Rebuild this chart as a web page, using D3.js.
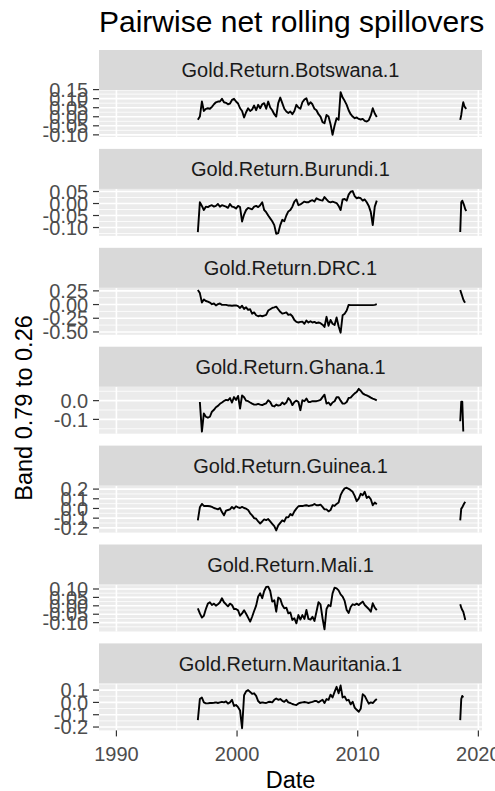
<!DOCTYPE html>
<html>
<head>
<meta charset="utf-8">
<script src="https://cdn.jsdelivr.net/npm/d3@7"></script>
<style>
  body { margin: 0; background: #fff; }
  svg { display: block; font-family: "Liberation Sans", Arial, sans-serif; }
</style>
</head>
<body>
<svg id="chart" width="495" height="791"></svg>
<script>
// facet labels
const stripLabels = [
  'Gold.Return.Botswana.1', 'Gold.Return.Burundi.1', 'Gold.Return.DRC.1',
  'Gold.Return.Ghana.1', 'Gold.Return.Guinea.1', 'Gold.Return.Mali.1',
  'Gold.Return.Mauritania.1'
];

// bi-monthly dates of the main stretch, then the short 2018 stretch (monthly)
const mainDates = [
  '1996-10','1996-12',
  '1997-02','1997-04','1997-06','1997-08','1997-10','1997-12',
  '1998-02','1998-04','1998-06','1998-08','1998-10','1998-12',
  '1999-02','1999-04','1999-06','1999-08','1999-10','1999-12',
  '2000-02','2000-04','2000-06','2000-08','2000-10','2000-12',
  '2001-02','2001-04','2001-06','2001-08','2001-10','2001-12',
  '2002-02','2002-04','2002-06','2002-08','2002-10','2002-12',
  '2003-02','2003-04','2003-06','2003-08','2003-10','2003-12',
  '2004-02','2004-04','2004-06','2004-08','2004-10','2004-12',
  '2005-02','2005-04','2005-06','2005-08','2005-10','2005-12',
  '2006-02','2006-04','2006-06','2006-08','2006-10','2006-12',
  '2007-02','2007-04','2007-06','2007-08','2007-10','2007-12',
  '2008-02','2008-04','2008-06','2008-08','2008-10','2008-12',
  '2009-02','2009-04','2009-06','2009-08','2009-10','2009-12',
  '2010-02','2010-04','2010-06','2010-08','2010-10','2010-12',
  '2011-02','2011-04','2011-06','2011-08'
];
const tailDates = ['2018-07','2018-08','2018-09','2018-10','2018-11','2018-12','2019-01'];

const botswana = [
  -0.017,0.001,0.084,0.032,0.044,0.047,0.044,0.055,0.069,0.080,
  0.084,0.084,0.099,0.080,0.077,0.069,0.073,0.093,0.099,0.084,
  0.073,0.047,0.032,-0.004,0.025,0.047,0.032,0.040,0.062,0.036,
  0.066,0.047,0.069,0.075,0.044,0.084,0.051,0.036,0.014,0.001,
  0.075,0.106,0.075,0.044,0.029,0.021,0.029,0.014,0.032,0.066,
  0.051,0.044,0.080,0.095,0.102,0.066,0.080,0.069,0.044,0.036,
  0.014,0.001,-0.030,-0.036,0.010,0.001,-0.041,-0.100,-0.048,-0.008,
  -0.017,0.136,0.106,0.088,0.066,0.036,0.014,0.001,-0.008,-0.004,
  -0.012,-0.015,-0.012,-0.023,-0.026,-0.019,0.007,0.047,0.018,-0.001
];
const botswanaTail = [-0.017,0.010,0.050,0.080,0.060,0.050,0.044];

const burundi = [
  -0.119,0.005,-0.010,-0.027,-0.013,-0.015,-0.010,-0.007,-0.013,-0.010,
  -0.002,-0.013,-0.007,-0.010,-0.013,-0.018,-0.002,-0.013,-0.015,-0.021,
  -0.010,-0.015,-0.075,-0.046,-0.027,-0.018,-0.021,-0.024,-0.013,-0.010,
  -0.015,-0.007,0.005,-0.027,-0.036,-0.050,-0.062,-0.074,-0.090,-0.126,
  -0.123,-0.090,-0.068,-0.074,-0.050,-0.033,-0.027,-0.013,0.008,0.017,
  -0.007,-0.004,0.002,0.008,0.005,0.005,0.011,0.014,0.008,0.022,
  0.017,0.014,0.012,0.027,0.017,0.008,0.005,0.008,0.005,0.002,
  -0.010,-0.027,0.017,0.019,0.012,0.037,0.049,0.052,0.031,0.022,
  0.025,0.022,0.012,0.017,0.005,-0.010,-0.036,-0.090,-0.013,0.012
];
const burundiTail = [-0.119,0.005,0.012,0.002,-0.010,-0.024,-0.031];

const drc = [
  0.267,0.209,0.036,0.094,0.065,0.053,0.036,0.007,0.019,-0.016,
  0.007,0.019,-0.005,-0.005,-0.005,-0.016,-0.016,-0.022,-0.016,-0.016,
  -0.028,-0.062,-0.022,-0.080,-0.051,-0.097,-0.086,-0.166,-0.143,-0.195,
  -0.213,-0.201,-0.213,-0.201,-0.189,-0.109,-0.086,-0.062,-0.051,-0.039,
  -0.086,-0.132,-0.166,-0.155,-0.143,-0.189,-0.178,-0.213,-0.282,-0.317,
  -0.328,-0.317,-0.311,-0.351,-0.293,-0.328,-0.305,-0.328,-0.317,-0.339,
  -0.328,-0.339,-0.368,-0.409,-0.224,-0.386,-0.282,-0.351,-0.374,-0.236,
  -0.397,-0.513,-0.195,-0.166,-0.109,-0.005,-0.010,-0.010,-0.010,-0.010,
  -0.010,-0.010,-0.010,-0.010,-0.010,-0.010,-0.010,-0.010,-0.005,0.007
];
const drcTail = [0.267,0.209,0.152,0.094,0.053,0.036,null];

const ghana = [
  null,-0.007,-0.165,-0.068,-0.086,-0.091,-0.086,-0.059,-0.049,-0.035,
  -0.028,-0.017,-0.010,-0.002,0.004,0.002,0.014,-0.010,0.019,0.004,
  0.025,-0.042,0.028,0.018,0.000,-0.003,-0.010,-0.016,-0.021,-0.021,
  -0.017,-0.021,-0.024,-0.019,-0.014,0.002,-0.007,-0.028,-0.031,-0.021,
  -0.026,-0.024,-0.010,-0.019,-0.010,0.014,0.002,-0.024,-0.007,0.000,
  -0.007,-0.051,0.002,-0.003,0.011,-0.007,-0.007,-0.003,-0.003,-0.003,
  0.000,0.004,0.019,0.032,-0.016,-0.010,-0.024,-0.010,-0.003,0.018,
  0.018,0.000,-0.016,-0.016,-0.007,0.014,0.016,0.028,0.039,0.046,
  0.063,0.053,0.039,0.032,0.028,0.023,0.016,0.011,0.007,0.002
];
const ghanaTail = [-0.110,-0.005,-0.005,-0.165,null,null,null];

const guinea = [
  -0.123,0.012,0.047,0.026,0.026,0.026,0.023,0.016,0.005,-0.002,
  -0.009,0.005,-0.037,-0.071,-0.023,-0.016,-0.009,0.016,-0.002,0.023,
  0.012,0.005,0.016,0.005,-0.002,-0.016,-0.050,-0.071,-0.099,-0.106,
  -0.134,-0.155,-0.134,-0.113,-0.120,-0.109,-0.134,-0.158,-0.182,-0.227,
  -0.175,-0.148,-0.123,-0.134,-0.089,-0.092,-0.057,-0.071,-0.030,-0.002,
  0.023,0.026,0.026,0.030,0.033,0.026,0.030,0.033,0.047,0.033,
  0.033,0.040,0.016,-0.009,-0.009,-0.030,-0.016,0.033,0.026,0.047,
  0.061,0.137,0.179,0.207,0.214,0.203,0.189,0.172,0.130,0.075,
  0.102,0.151,0.137,0.172,0.109,0.123,0.095,0.033,0.061,0.043
];
const guineaTail = [-0.123,-0.002,0.012,0.033,0.054,0.068,null];

const mali = [
  -0.015,-0.045,-0.070,-0.059,-0.019,0.013,0.021,0.005,0.013,0.001,
  0.009,0.021,0.045,0.021,0.009,-0.003,0.013,0.005,-0.019,-0.019,
  -0.027,-0.059,-0.045,-0.027,-0.047,-0.070,-0.094,-0.065,-0.031,0.001,
  0.055,0.074,0.045,0.088,0.112,0.114,0.088,0.025,0.033,-0.035,
  0.049,0.041,0.005,-0.015,-0.011,-0.045,-0.039,-0.084,-0.074,-0.104,
  -0.055,-0.082,-0.055,-0.078,-0.025,-0.078,-0.082,-0.065,-0.090,-0.035,
  0.021,0.009,-0.074,-0.140,-0.019,0.005,-0.003,0.074,0.108,0.104,
  0.092,0.068,0.055,0.029,-0.025,-0.043,-0.007,0.009,0.005,0.013,
  0.005,0.015,0.025,0.005,-0.007,-0.019,-0.035,0.015,-0.011,-0.025
];
const maliTail = [0.009,-0.011,-0.025,-0.035,-0.059,-0.084,null];

const mauritania = [
  -0.144,0.027,0.040,0.000,-0.008,-0.008,-0.005,-0.005,-0.003,0.000,
  -0.005,0.000,0.005,0.000,0.008,-0.010,0.000,0.021,-0.029,-0.021,
  -0.039,-0.066,-0.210,0.058,0.090,0.100,0.085,0.069,0.074,0.053,
  0.011,-0.005,0.000,-0.003,-0.005,0.003,0.005,0.000,0.021,0.032,
  0.021,0.027,0.013,0.005,0.021,0.000,-0.005,-0.013,-0.018,-0.021,
  -0.008,-0.003,0.000,0.003,0.000,-0.005,0.000,0.005,0.011,0.011,
  0.000,0.011,0.021,-0.005,0.027,0.021,0.063,0.040,0.085,0.127,
  0.074,0.137,0.040,0.048,0.016,0.021,-0.016,0.005,-0.042,-0.060,
  -0.076,-0.052,0.066,0.053,0.021,-0.010,0.000,-0.005,0.013,0.027
];
const mauritaniaTail = [-0.144,0.027,0.053,0.040,null,null,null];

// y tick labels per facet (free scales)
const botswanaTicks = ['0.15','0.10','0.05','0.00','-0.05','-0.10'];
const burundiTicks = ['0.05','0.00','-0.05','-0.10'];
const drcTicks = ['0.25','0.00','-0.25','-0.50'];
const ghanaTicks = ['0.0','-0.1'];
const guineaTicks = ['0.2','0.1','0.0','-0.1','-0.2'];
const maliTicks = ['0.10','0.05','0.00','-0.05','-0.10'];
const mauritaniaTicks = ['0.1','0.0','-0.1','-0.2'];

const xTickLabels = ['1990','2000','2010','2020'];
const xMinorYears = ['1995','2005','2015'];

const mainSeries = [botswana, burundi, drc, ghana, guinea, mali, mauritania];
const tailSeries = [botswanaTail, burundiTail, drcTail, ghanaTail, guineaTail, maliTail, mauritaniaTail];
const tickSets = [botswanaTicks, burundiTicks, drcTicks, ghanaTicks, guineaTicks, maliTicks, mauritaniaTicks];

// layout
const left = 99, right = 482;
const top0 = 50, stripH = 40, panelH = 47, step = 98.9;
const axisTextSize = 20;

const svg = d3.select('#chart');
const parseMonth = d3.timeParse('%Y-%m');
const parseYear = d3.timeParse('%Y');

const xLim = [new Date(1990, 0, 1), new Date(2018, 10, 10)];
const xSpan = xLim[1] - xLim[0];
const x = d3.scaleTime()
  .domain([new Date(+xLim[0] - xSpan * 0.05), new Date(+xLim[1] + xSpan * 0.05)])
  .range([left, right]);

const line = d3.line()
  .defined(function (d) { return d.v != null; })
  .x(function (d) { return x(d.date); })
  .y(function (d) { return d.y; });

// title
svg.append('text')
  .attr('x', left)
  .attr('y', 32)
  .attr('font-size', 30)
  .attr('fill', '#000')
  .text('Pairwise net rolling spillovers');

const panels = stripLabels.map(function (label, i) {
  return { label: label, main: mainSeries[i], tail: tailSeries[i], ticks: tickSets[i] };
});

panels.forEach(function (p, i) {
  const stripTop = top0 + i * step;
  const pTop = stripTop + stripH;
  const pBottom = pTop + panelH;

  const all = p.main.concat(p.tail).filter(function (v) { return v != null; });
  const ext = d3.extent(all);
  const pad = (ext[1] - ext[0]) * 0.05;
  const y = d3.scaleLinear().domain([ext[0] - pad, ext[1] + pad]).range([pBottom, pTop]);

  const g = svg.append('g');

  g.append('rect')
    .attr('x', left).attr('y', pTop)
    .attr('width', right - left).attr('height', panelH)
    .attr('fill', '#EBEBEB');

  // minor grid
  const tickVals = p.ticks.map(Number).sort(d3.ascending);
  const yStep = tickVals.length > 1 ? tickVals[1] - tickVals[0] : 0.1;
  const yMinor = [];
  for (let k = 0; k <= tickVals.length; k++) {
    const mv = (k < tickVals.length ? tickVals[k] : tickVals[k - 1] + yStep) - yStep / 2;
    if (mv > y.domain()[0] && mv < y.domain()[1]) yMinor.push(mv);
  }
  g.selectAll('.yminor').data(yMinor).enter().append('line')
    .attr('x1', left).attr('x2', right)
    .attr('y1', function (d) { return y(d); }).attr('y2', function (d) { return y(d); })
    .attr('stroke', '#fff').attr('stroke-width', 0.8);
  g.selectAll('.xminor').data(xMinorYears.map(parseYear)).enter().append('line')
    .attr('x1', function (d) { return x(d); }).attr('x2', function (d) { return x(d); })
    .attr('y1', pTop).attr('y2', pBottom)
    .attr('stroke', '#fff').attr('stroke-width', 0.8);

  // major grid
  g.selectAll('.ymajor').data(tickVals).enter().append('line')
    .attr('x1', left).attr('x2', right)
    .attr('y1', function (d) { return y(d); }).attr('y2', function (d) { return y(d); })
    .attr('stroke', '#fff').attr('stroke-width', 1.6);
  g.selectAll('.xmajor').data(xTickLabels.map(parseYear)).enter().append('line')
    .attr('x1', function (d) { return x(d); }).attr('x2', function (d) { return x(d); })
    .attr('y1', pTop).attr('y2', pBottom)
    .attr('stroke', '#fff').attr('stroke-width', 1.6);

  // series
  const mainPts = mainDates.map(function (d, k) {
    return { date: parseMonth(d), v: p.main[k], y: p.main[k] == null ? 0 : y(p.main[k]) };
  });
  const tailPts = tailDates.map(function (d, k) {
    return { date: parseMonth(d), v: p.tail[k], y: p.tail[k] == null ? 0 : y(p.tail[k]) };
  });
  [mainPts, tailPts].forEach(function (pts) {
    g.append('path')
      .attr('d', line(pts))
      .attr('fill', 'none')
      .attr('stroke', '#000')
      .attr('stroke-width', 1.9)
      .attr('stroke-linejoin', 'round');
  });

  // strip
  g.append('rect')
    .attr('x', left).attr('y', stripTop)
    .attr('width', right - left).attr('height', stripH)
    .attr('fill', '#D9D9D9');
  g.append('text')
    .attr('x', (left + right) / 2)
    .attr('y', stripTop + stripH / 2)
    .attr('dy', '0.36em')
    .attr('text-anchor', 'middle')
    .attr('font-size', 20)
    .attr('fill', '#1A1A1A')
    .text(p.label);

  // y axis
  const ticksG = g.selectAll('.ytick').data(p.ticks).enter().append('g');
  ticksG.append('line')
    .attr('x1', left - 6).attr('x2', left)
    .attr('y1', function (d) { return y(+d); }).attr('y2', function (d) { return y(+d); })
    .attr('stroke', '#333').attr('stroke-width', 1.2);
  ticksG.append('text')
    .attr('x', left - 6 - 4.8)
    .attr('y', function (d) { return y(+d); })
    .attr('dy', '0.36em')
    .attr('text-anchor', 'end')
    .attr('font-size', axisTextSize)
    .attr('fill', '#4D4D4D')
    .text(function (d) { return d; });

  // x axis under the last facet
  if (i === panels.length - 1) {
    const xt = g.selectAll('.xtick').data(xTickLabels).enter().append('g');
    xt.append('line')
      .attr('x1', function (d) { return x(parseYear(d)); })
      .attr('x2', function (d) { return x(parseYear(d)); })
      .attr('y1', pBottom).attr('y2', pBottom + 6)
      .attr('stroke', '#333').attr('stroke-width', 1.2);
    xt.append('text')
      .attr('x', function (d) { return x(parseYear(d)); })
      .attr('y', pBottom + 31)
      .attr('text-anchor', 'middle')
      .attr('font-size', axisTextSize)
      .attr('fill', '#4D4D4D')
      .text(function (d) { return d; });

    svg.append('text')
      .attr('x', (left + right) / 2)
      .attr('y', 788)
      .attr('text-anchor', 'middle')
      .attr('font-size', 23.5)
      .attr('fill', '#000')
      .text('Date');
  }
});

// y axis title
svg.append('text')
  .attr('transform', 'translate(32,408) rotate(-90)')
  .attr('text-anchor', 'middle')
  .attr('font-size', 23.5)
  .attr('fill', '#000')
  .text('Band 0.79 to 0.26');
</script>
</body>
</html>
